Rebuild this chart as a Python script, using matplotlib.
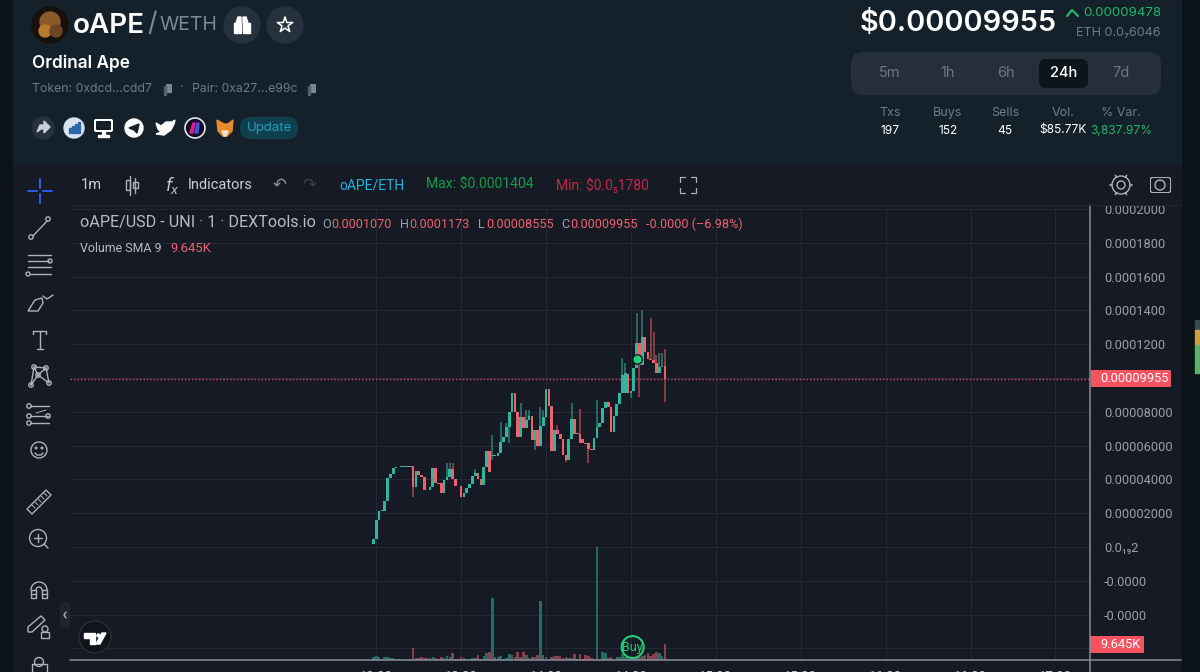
import numpy as np
import matplotlib
matplotlib.use('Agg')
import matplotlib.pyplot as plt
from matplotlib.patches import Circle, Rectangle, FancyBboxPatch, Polygon

plt.rcParams['font.family'] = ['Roboto', 'DejaVu Sans']

# prices are read in units of 0.00001 $
opens = [.18, .45, 1.60, 2.15, 2.15, 2.74, 4.06, 4.30, 4.67, 4.71, 4.75, 4.77, 4.76, 4.76, 4.77, 3.57, 4.52, 4.26, 4.12, 3.37,
         3.37, 3.57, 4.65, 3.77, 3.77, 3.21, 3.96, 4.12, 4.62, 4.00, 3.61, 3.61, 2.98, 3.21, 3.47, 3.73, 4.20, 4.36, 4.00, 3.69,
         4.71, 5.66, 5.38, 5.38, 5.40, 5.54, 6.23, 6.53, 7.12, 8.01, 9.13, 8.01, 6.53, 7.71, 7.02, 7.51, 7.75, 6.33, 6.92, 5.98,
         7.16, 7.71, 9.35, 8.34, 5.70, 6.92, 6.69, 6.37, 5.44, 5.15, 6.37, 7.55, 6.69, 6.69, 6.37, 6.13, 6.13, 5.78, 5.74, 6.43,
         7.08, 7.32, 8.20, 8.60, 8.30, 6.82, 7.75, 8.46, 9.13, 9.09, 10.24, 9.09, 9.25, 10.57, 12.05, 10.77, 12.41, 11.56, 11.10, 11.07,
         10.87, 10.28, 10.67, 10.70]
closes = [.45, 1.60, 2.15, 2.18, 2.74, 4.06, 4.30, 4.67, 4.71, 4.75, 4.77, 4.76, 4.77, 4.77, 3.57, 4.52, 4.26, 4.12, 3.37, 3.35,
          3.57, 4.65, 3.77, 3.75, 3.21, 3.96, 4.12, 4.62, 4.00, 3.61, 3.59, 2.98, 3.21, 3.47, 3.73, 4.20, 4.36, 4.00, 3.69, 4.71,
          5.66, 4.46, 5.40, 5.44, 5.54, 6.23, 6.53, 7.12, 8.01, 9.13, 8.01, 6.53, 7.71, 7.02, 7.51, 7.75, 6.33, 6.92, 5.98, 7.16,
          7.71, 9.35, 8.34, 5.70, 6.92, 6.69, 6.37, 5.44, 5.15, 6.37, 7.55, 6.69, 6.67, 6.13, 6.13, 6.11, 5.78, 5.76, 6.43, 7.08,
          7.36, 8.20, 8.60, 8.30, 6.82, 7.75, 8.46, 9.13, 10.18, 10.28, 9.09, 9.25, 10.57, 12.05, 10.77, 12.41, 11.56, 11.10, 11.07, 10.87,
          10.28, 10.67, 10.73, 9.955]
# only the candles with a visible wick, minute index -> value
high_wicks = {26: 4.95, 27: 4.95, 28: 4.95, 36: 4.60, 42: 6.63, 45: 7.42, 47: 7.36, 52: 8.50, 54: 8.11, 55: 8.11, 59: 8.30, 60: 8.11,
              65: 7.22, 70: 8.50, 73: 8.15, 79: 8.70, 88: 11.16, 89: 10.87, 93: 13.87, 95: 14.02, 98: 13.53, 99: 12.74, 100: 11.36,
              101: 11.46, 102: 11.46, 103: 11.73}
low_wicks = {14: 2.98, 42: 5.15, 48: 6.13, 57: 5.74, 68: 5.01, 76: 4.95, 91: 8.80, 94: 8.90, 103: 8.555}
volumes = [2.1, 2.8, 1.7, .6, 1.7, 1.7, 1.3, 1.1, .6, .4, .4, .2, .4, .6, 7.7, 1.5, 1.3, 1.7, 1.1, 1.1,
           1.1, 2.1, 1.3, .9, 1.9, 1.5, 2.6, 2.1, 4.7, .6, .4, 1.9, 1.1, .9, .9, 1.1, 1.1, 3.4, .4, 2.6,
           4.3, 5.1, 39.6, 1.9, 1.9, 2.4, .9, 1.1, 3.9, 3.0, 1.7, 5.1, 1.7, 5.4, 3.0, 1.3, 1.7, 1.9, 3.0, 38.1,
           3.0, 1.7, .9, 2.1, 2.6, 2.6, 2.6, 1.3, 1.7, 1.5, 1.5, 3.9, .6, 3.6, .9, 3.2, 2.6, 1.0, .6, 72.3,
           .6, 5.4, 4.3, 1.5, 1.7, .9, 1.7, 1.7, 3.6, 2.1, 1.7, 1.7, 1.7, 1.7, 2.1, 2.6, 3.0, 4.3, 2.6, 3.9,
           5.4, 4.3, 2.6, 10.3]
last_price = 9.955
sma_volume = 9.645
buy_minute = 92
buy_price = 11.1

price_ticks = [20, 18, 16, 14, 12, 10, 8, 6, 4, 2, 0, -2, -4, -6]
price_labels = ['0.0002000', '0.0001800', '0.0001600', '0.0001400', '0.0001200', '', '0.00008000', '0.00006000',
                '0.00004000', '0.00002000', '0.0₁₉2', '-0.0000', '-0.0000', '']
time_ticks = [0, 30, 60, 90, 120, 150, 180, 210, 240]
time_labels = ['13:00', '13:30', '14:00', '14:30', '15:00', '15:30', '16:00', '16:30', '17:00']

GREEN = '#2fb5a0'
RED = '#ee6269'
TAG = '#f7525f'
CHART_BG = '#161a25'
HEAD_BG = '#14202a'
GREY = '#9b9ea8'

W, H = 1200, 672
fig = plt.figure(figsize=(12, 6.72), dpi=100, facecolor='#0b1218')


def px_rect(x0, y0, x1, y1):
    return [x0 / W, 1 - y1 / H, (x1 - x0) / W, (y1 - y0) / H]


# page background
bg = fig.add_axes([0, 0, 1, 1], zorder=0)
bg.set_xlim(0, W)
bg.set_ylim(H, 0)
bg.axis('off')
bg.add_patch(Rectangle((13, 0), 1168, 165, color=HEAD_BG))
bg.add_patch(Rectangle((13, 165), 1168, 507, color=CHART_BG))
bg.add_patch(Rectangle((1195, 320), 5, 10, color='#3a4a4e'))
bg.add_patch(Rectangle((1195, 330), 5, 15, color='#c9a23a'))
bg.add_patch(Rectangle((1195, 345), 5, 28, color='#5fae6a'))

# price pane
minutes = np.arange(len(opens)) - 1
o = np.array(opens) * 1e-5
c = np.array(closes) * 1e-5
up = c >= o
ax = fig.add_axes(px_rect(70, 204, 1090, 660), zorder=1)
ax.patch.set_alpha(0)
ax.set_xlim(-108.2, 252.2)
ax.set_ylim(-6.686e-5, 20.3e-5)
ax.set_yticks(np.array(price_ticks) * 1e-5, price_labels)
ax.set_xticks(time_ticks, time_labels)
ax.yaxis.tick_right()
ax.tick_params(axis='y', length=0, pad=10, labelsize=9.2, labelcolor=GREY)
ax.tick_params(axis='x', length=0, pad=7.5, labelsize=9.5, labelcolor='#c4c6cc')
ax.grid(color='#242834', lw=0.8)
ax.set_axisbelow(True)
for s in ['top', 'left', 'right', 'bottom']:
    ax.spines[s].set_visible(False)

for i, v in high_wicks.items():
    ax.vlines(minutes[i], max(o[i], c[i]), v * 1e-5, color='#2b8078' if up[i] else '#a8444e', lw=1.1, zorder=2)
for i, v in low_wicks.items():
    ax.vlines(minutes[i], v * 1e-5, min(o[i], c[i]), color='#2b8078' if up[i] else '#a8444e', lw=1.1, zorder=2)
ax.bar(minutes, np.maximum(np.abs(c - o), 0.05e-5), bottom=np.minimum(o, c), width=0.95,
       color=[GREEN if u else RED for u in up], zorder=3)
ax.axhline(last_price * 1e-5, color='#d04a5e', lw=1, ls=(0, (1, 1.5)), zorder=2)
ax.scatter([buy_minute], [buy_price * 1e-5], s=46, color='#1fd07a', edgecolor='#10141c', lw=1, zorder=5)

# volume pane shares the same box
vol = fig.add_axes(px_rect(70, 204, 1090, 660), zorder=2, sharex=ax)
vol.patch.set_alpha(0)
vol.axis('off')
vol.set_ylim(0, 292.7)
vol.bar(minutes, volumes, width=0.9, color=['#256a64' if u else '#8c3e4a' for u in up], zorder=2)
vol.scatter([buy_minute - 1.4], [8.3], s=250, facecolor='none', edgecolor='#1fd07a', lw=1.5, zorder=4)
vol.text(buy_minute - 1.4, 8.3, 'Buy', color='#1fd07a', fontsize=9, ha='center', va='center', zorder=4)

# page chrome, in pixels
ui = fig.add_axes([0, 0, 1, 1], zorder=3)
ui.set_xlim(0, W)
ui.set_ylim(H, 0)
ui.axis('off')
ui.patch.set_alpha(0)
ui.add_patch(Rectangle((13, 165), 1168, 39, color=CHART_BG))


def txt(x, y, s, size, color, family='Inter', weight='normal', ha='left'):
    ui.text(x, y, s, fontsize=size, color=color, ha=ha, va='center', weight=weight, family=[family, 'DejaVu Sans'])


def line(xs, ys, color='#aeb1ba', lw=1.0):
    ui.plot(xs, ys, color=color, lw=lw, solid_capstyle='round')


def ring(x, y, r, color='#aeb1ba', lw=1.0, fill='none'):
    ui.add_patch(Circle((x, y), r, facecolor=fill, edgecolor=color, lw=lw))


def box(x0, y0, x1, y1, r, color):
    ui.add_patch(FancyBboxPatch((x0 + r, y0 + r), x1 - x0 - 2 * r, y1 - y0 - 2 * r,
                                boxstyle=f'round,pad={r}', facecolor=color, edgecolor='none'))


# axis lines run on past the pane, as on the page
line([1090, 1090], [205, 672], '#8b8e98', 1.1)
line([70, 1181], [660, 660], '#8b8e98', 1.1)
line([70, 1181], [204.5, 204.5], '#232733', 0.8)

# token header
ring(50, 25, 18, fill='#16110c', color='#16110c')
ring(50, 22, 10, fill='#8a5a2a', color='#8a5a2a')
ring(45, 31, 6, fill='#b5792f', color='#b5792f')
ring(56, 31, 6, fill='#6d4522', color='#6d4522')
txt(73, 26, 'oAPE', 20, 'white', weight='semibold')
txt(147, 24, '/', 19, '#7c8a9a')
txt(159, 25, 'WETH', 14, '#7c8a9a')
ring(242, 25, 18, fill='#25323d', color='#25323d')
ring(285, 25, 18, fill='#25323d', color='#25323d')
ui.add_patch(Rectangle((234, 23), 7, 10, color='white'))
ui.add_patch(Rectangle((243, 23), 7, 10, color='white'))
ui.add_patch(Polygon([(236, 23), (238, 17), (241, 17), (241, 23)], color='white'))
ui.add_patch(Polygon([(243, 23), (243, 17), (246, 17), (248, 23)], color='white'))
ui.scatter([285], [25], s=135, marker='*', facecolor='none', edgecolor='white', lw=1.1)
txt(32, 63, 'Ordinal Ape', 12.4, 'white', weight='semibold')
txt(32, 89, 'Token: 0xdcd...cdd7', 8.8, '#6e7b88')
txt(180, 88, '·', 9, '#6e7b88')
txt(192, 89, 'Pair: 0xa27...e99c', 8.8, '#6e7b88')
for x in [169, 313]:
    box(x - 3, 84, x + 3, 93, 1, '#7c8792')
    ui.add_patch(Rectangle((x - 5, 86), 1.5, 9, color='#55616c'))

# social icons
ring(43, 128, 11, fill='#25323d', color='#25323d')
ui.add_patch(Polygon([(37, 132), (40, 125), (44, 125), (44, 121), (50, 127), (44, 133), (44, 129), (41, 129)], color='#c9ced4'))
ring(74, 128, 10, fill='#d7e3ee', color='#d7e3ee')
for x, h in [(69, 5), (72, 7), (75, 9), (78, 11)]:
    ui.add_patch(Rectangle((x, 133 - h), 2, h, color='#2a6aa8'))
box(94, 119, 113, 132, 2, 'white')
box(96, 121, 111, 130, 1, HEAD_BG)
ui.add_patch(Rectangle((102, 132), 3, 3, color='white'))
ui.add_patch(Rectangle((98, 135), 11, 1.5, color='white'))
ring(134, 128, 9, fill='white', color='white')
ui.add_patch(Polygon([(129, 128), (139, 124), (137, 133), (134, 130)], color=HEAD_BG))
ui.add_patch(Polygon([(156, 123), (161, 126), (166, 122), (172, 122), (175, 120), (174, 124), (171, 130), (164, 135), (156, 134),
                      (161, 132), (158, 129)], color='white'))
ring(195, 128, 10, fill='#160a1e', color='#e4e4ec', lw=1.2)
ui.add_patch(Polygon([(190, 133), (193, 123), (195, 123), (193, 133)], color='#d3218f'))
ui.add_patch(Polygon([(195, 133), (197, 123), (199, 123), (198, 133)], color='#3f55e0'))
ui.add_patch(Polygon([(217, 120), (224, 124), (228, 124), (233, 120), (232, 131), (227, 136), (223, 136), (218, 131)], color='#e88a2c'))
ui.add_patch(Polygon([(222, 131), (228, 131), (226, 136), (224, 136)], color='#f3e2cc'))
box(240, 117, 298, 139, 10, '#10404e')
txt(269, 128, 'Update', 9.5, '#1f9fbf', ha='center')

# price block
txt(1057, 23, '$0.00009955', 20.8, 'white', weight='semibold', ha='right')
line([1067, 1072, 1078], [16, 10, 16], color='#1fb866', lw=1.6)
txt(1161, 13, '0.00009478', 9.6, '#1fb866', ha='right')
txt(1161, 33, 'ETH 0.0₇6046', 9, '#6e7b88', ha='right')
box(851, 52, 1161, 95, 12, '#252f3b')
box(1039, 59, 1088, 88, 7, '#0d151c')
for x, s in zip([890, 948, 1006, 1064, 1121], ['5m', '1h', '6h', '24h', '7d']):
    txt(x, 73, s, 10.5, 'white' if s == '24h' else '#6b7784', ha='center', weight='medium' if s == '24h' else 'normal')
stats_x = [890, 948, 1005, 1063, 1121]
stats_top = ['Txs', 'Buys', 'Sells', 'Vol.', '% Var.']
stats_bottom = ['197', '152', '45', '$85.77K', '3,837.97%']
for x, a, b in zip(stats_x, stats_top, stats_bottom):
    txt(x, 113, a, 9, '#6e7b88', ha='center')
    txt(x, 130.5, b, 8.6, '#1fb866' if b.endswith('%') else 'white', ha='center')

# chart toolbar
line([40, 40], [179, 188], '#2962ff', 1.3)
line([40, 40], [194, 203], '#2962ff', 1.3)
line([28, 37], [191, 191], '#2962ff', 1.3)
line([43, 52], [191, 191], '#2962ff', 1.3)
txt(91, 185, '1m', 10.5, '#c9ccd3', family='Roboto', ha='center')
line([130, 130], [176, 195])
ui.add_patch(Rectangle((125.5, 180), 4.5, 10, fill=False, edgecolor='#aeb1ba', lw=1))
line([135, 135], [178, 193])
ui.add_patch(Rectangle((132.5, 182), 5, 6, fill=False, edgecolor='#aeb1ba', lw=1))
txt(165, 185, '$f_x$', 12, '#c9ccd3', family='DejaVu Sans')
txt(188, 185, 'Indicators', 10.5, '#c9ccd3', family='Roboto')
txt(280, 184, '↶', 12, '#8d909a', family='DejaVu Sans', ha='center')
txt(309, 184, '↷', 12, '#3c404c', family='DejaVu Sans', ha='center')
txt(339, 185, 'oAPE/ETH', 10, '#1fb5dc', family='Roboto')
txt(426, 185, 'Max: $0.0001404', 10.1, '#159a4c', family='Roboto')
txt(556, 185, 'Min: $0.0₅1780', 10, '#c22a44', family='Roboto')
for sx, sy in [(-1, -1), (1, -1), (-1, 1), (1, 1)]:
    x, y = 688 + sx * 8, 185 + sy * 8
    line([x, x - sx * 5], [y, y], lw=0.9)
    line([x, x], [y, y - sy * 5], lw=0.9)
ring(1121, 185, 4, lw=1)
ring(1121, 185, 9, lw=1)
for a in np.arange(0, 360, 60):
    r = np.deg2rad(a)
    line([1121 + 9 * np.cos(r), 1121 + 11 * np.cos(r)], [185 + 9 * np.sin(r), 185 + 11 * np.sin(r)], lw=1.2)
box(1150, 177, 1171, 193, 2, '#aeb1ba')
box(1151, 178, 1170, 192, 2, CHART_BG)
ring(1160, 185, 5, lw=1)

# pane legends
txt(80, 223, 'oAPE/USD - UNI · 1 · DEXTools.io', 11.6, '#b8bbc4', family='Roboto')
legend_bits = [(322, 'O', '#9b9ea8'), (331, '0.0001070', RED), (400, 'H', '#9b9ea8'), (409, '0.0001173', RED),
               (478, 'L', '#9b9ea8'), (486, '0.00008555', RED), (561, 'C', '#9b9ea8'), (570, '0.00009955', RED),
               (646, '-0.0000 (–6.98%)', RED)]
for x, s, col in legend_bits:
    txt(x, 224, s, 9.1, col, family='Roboto')
txt(80, 248, 'Volume SMA 9', 8.9, '#b8bbc4', family='Roboto')
txt(170, 248, f'{sma_volume}K', 9.4, RED, family='Roboto')

# last value tags
box(1091, 370, 1171, 387, 1, TAG)
txt(1100, 378.5, f'0.0000{last_price * 1000:.0f}', 9.2, 'white', family='Roboto')
box(1090, 636, 1144, 653, 1, TAG)
txt(1100, 644.5, f'{sma_volume}K', 9.2, 'white', family='Roboto')

# drawing tools on the left
line([33, 47], [236, 221])
ring(31, 237, 2.2, fill=CHART_BG)
ring(48, 219, 2.2, fill=CHART_BG)
for y, x0, x1 in [(255, 28, 51), (261, 28, 49), (267, 28, 51), (274, 30, 51)]:
    line([x0, x1], [y, y])
ring(50, 261, 2, fill=CHART_BG)
ring(28, 274, 2, fill=CHART_BG)
ui.add_patch(Polygon([(28, 311), (35, 300), (42, 298), (43, 303), (38, 311)], fill=False, edgecolor='#aeb1ba', lw=1))
line([43, 47, 53], [296, 299, 295])
line([33, 46], [331, 331])
line([40, 40], [331, 349])
line([37, 43], [349, 349])
line([33, 33], [331, 334])
line([46, 46], [331, 334])
star_x = [31, 34, 38, 46, 49]
star_y = [385, 367, 375, 368, 383]
line([31, 34, 38, 31], [385, 367, 375, 385])
line([38, 46, 49, 38], [375, 368, 383, 375])
line([34, 46], [367, 368])
for x, y in zip(star_x, star_y):
    ring(x, y, 2.2, fill=CHART_BG)
for y, x0, x1 in [(406, 30, 49), (416, 30, 48), (423, 30, 49)]:
    line([x0, x1], [y, y])
line([36, 46], [413, 410], lw=0.7)
ring(29, 406, 2.2, fill=CHART_BG)
ring(29, 416, 2.2, fill=CHART_BG)
ring(48, 416, 2.2, fill=CHART_BG)
ring(29, 423, 2.2, fill=CHART_BG)
ring(39, 450, 8)
ring(36, 448, .8, fill='#aeb1ba')
ring(42, 448, .8, fill='#aeb1ba')
line([35, 37, 41, 43], [453, 455, 455, 453])
ui.add_patch(Polygon([(27, 509), (46, 490), (51, 495), (32, 514)], fill=False, edgecolor='#aeb1ba', lw=1))
for a, b in [(32, 505), (35, 502), (38, 499), (41, 496), (44, 493)]:
    line([a, a + 3], [b, b + 3], lw=0.7)
ring(38, 538, 8.5)
line([38, 38], [534, 542])
line([34, 42], [538, 538])
line([44, 48], [544, 548])
# magnet
t = np.linspace(np.pi, 2 * np.pi, 20)
line(39 + 8 * np.cos(t), 590 + 8 * np.sin(t))
line(39 + 3 * np.cos(t), 590 + 3 * np.sin(t))
for x0, x1 in [(31, 36), (42, 47)]:
    line([x0, x0, x1, x1, x0], [590, 598, 598, 590, 590])
    line([x0, x1], [594, 594])
ui.add_patch(Polygon([(28, 627), (41, 616), (45, 620), (32, 632), (28, 632)], fill=False, edgecolor='#aeb1ba', lw=1))
ui.add_patch(Rectangle((41, 632), 8, 6, fill=False, edgecolor='#aeb1ba', lw=1))
ring(45, 629, 3)
ui.add_patch(Rectangle((32, 664), 15, 12, fill=False, edgecolor='#aeb1ba', lw=1))
ring(39, 662, 4.5)
box(60, 602, 70, 628, 4, '#20242f')
line([66, 64, 66], [612, 615, 618], lw=1)
# TradingView badge
ring(95, 637, 16, fill='#10141c', color='#2a2e39', lw=1)
ui.add_patch(Polygon([(84, 633), (95, 633), (95, 644), (90, 644), (90, 638), (84, 638)], color='white'))
ui.add_patch(Polygon([(96, 644), (102, 633), (106, 633), (100, 644)], color='white'))
ring(98.5, 635.5, 2.2, fill='white', color='white', lw=0)

fig.savefig('out.png', dpi=100, facecolor=fig.get_facecolor())
